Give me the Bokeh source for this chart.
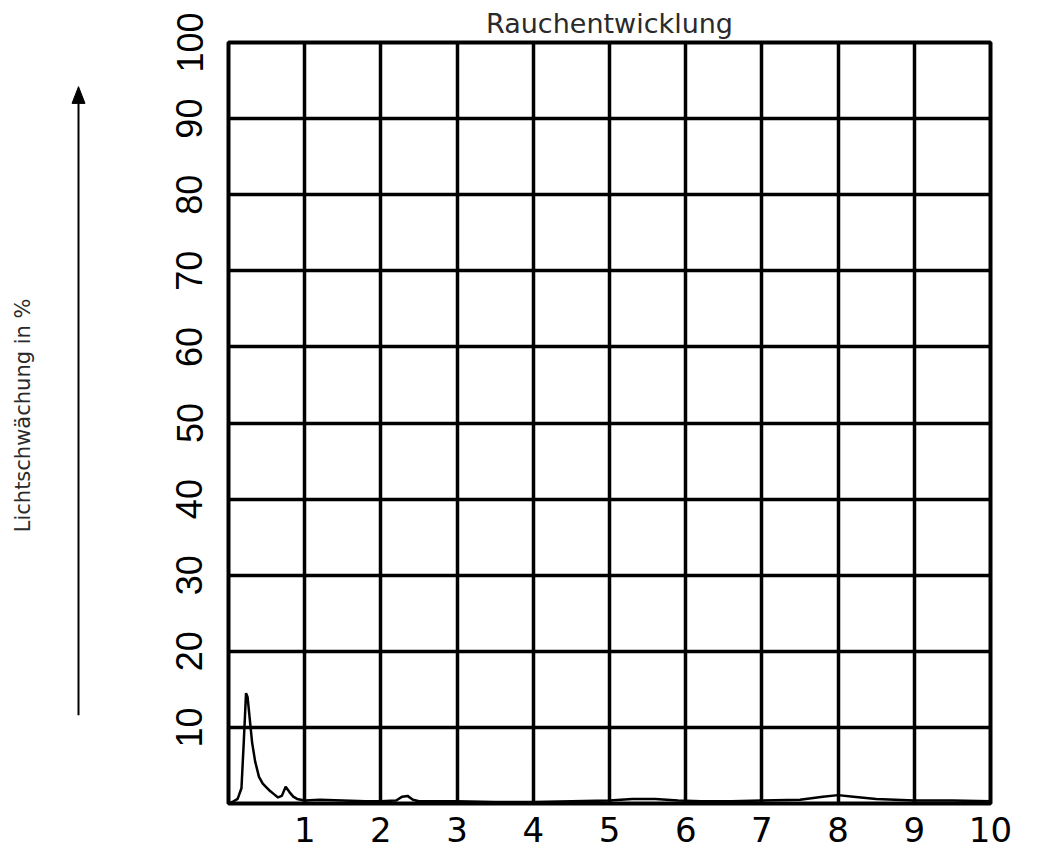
import math
from bokeh.plotting import figure
from bokeh.models import FixedTicker, Range1d
from bokeh.layouts import row
from bokeh.core.properties import value
from bokeh.embed import file_html
from bokeh.resources import INLINE

# ---- data ----
title_text = "Rauchentwicklung"
y_axis_title = "Lichtschwächung in %"
x_ticks = [1, 2, 3, 4, 5, 6, 7, 8, 9, 10]
y_ticks = [10, 20, 30, 40, 50, 60, 70, 80, 90, 100]

time_min = [0.0, 0.05, 0.12, 0.17, 0.20, 0.23, 0.25, 0.27, 0.29, 0.31,
            0.35, 0.40, 0.45, 0.50, 0.55, 0.60, 0.65, 0.70, 0.75, 0.80,
            0.85, 0.90, 1.00, 1.20, 1.50, 1.80, 2.00, 2.20, 2.28, 2.35,
            2.42, 2.50, 3.00, 3.50, 4.00, 4.50, 5.00, 5.30, 5.60, 5.90,
            6.20, 6.60, 7.00, 7.50, 7.80, 8.00, 8.20, 8.50, 9.00, 9.50,
            10.00]
light_loss = [0.0, 0.2, 0.6, 2.0, 8.0, 14.5, 14.0, 12.0, 10.0, 8.0,
              5.5, 3.5, 2.6, 2.1, 1.6, 1.2, 0.8, 1.0, 2.2, 1.5,
              0.9, 0.6, 0.4, 0.5, 0.4, 0.3, 0.3, 0.4, 0.9, 1.0,
              0.5, 0.3, 0.3, 0.2, 0.2, 0.3, 0.4, 0.6, 0.6, 0.4,
              0.3, 0.3, 0.4, 0.5, 0.9, 1.1, 0.9, 0.6, 0.4, 0.4,
              0.3]

TOTAL_W, TOTAL_H = 1043, 850
LEFT_W = 150

# ---- left strip: y-axis title and arrow (x in pixels, y shares the chart's scale) ----
left = figure(width=LEFT_W, height=TOTAL_H, output_backend="svg",
              toolbar_location=None, x_range=Range1d(0, LEFT_W),
              y_range=Range1d(0, 100), min_border=0,
              min_border_top=42, min_border_bottom=TOTAL_H - 803,
              x_axis_location=None, y_axis_location=None)
left.grid.visible = False
left.outline_line_color = None
left.background_fill_color = "white"
left.border_fill_color = "white"
left.text(x=[22], y=[51], text=[y_axis_title], angle=math.pi / 2,
          text_align="center", text_baseline="middle",
          text_font=value("DejaVu Sans"), text_font_size="21px",
          text_color="#2a2a2a")
left.segment(x0=[78], y0=[11.6], x1=[78], y1=[92.5], line_color="black",
             line_width=2)
left.patch(x=[71.5, 84.5, 78], y=[92.0, 92.0, 94.2], fill_color="black",
           line_color="black", line_width=1)

# ---- main chart ----
p = figure(width=TOTAL_W - LEFT_W, height=TOTAL_H, output_backend="svg",
           toolbar_location=None,
           x_range=Range1d(0, 10), y_range=Range1d(0, 100),
           min_border_left=228 - LEFT_W, min_border_right=TOTAL_W - 990,
           min_border_top=42, min_border_bottom=TOTAL_H - 803)
p.background_fill_color = "white"
p.border_fill_color = "white"
p.outline_line_color = "black"
p.outline_line_width = 4

p.title.text = title_text
p.title.align = "center"
p.title.text_font = "DejaVu Sans"
p.title.text_font_size = "27px"
p.title.text_font_style = "normal"
p.title.text_color = "#2a2a2a"
p.title.standoff = 8

p.xgrid.ticker = FixedTicker(ticks=x_ticks)
p.ygrid.ticker = FixedTicker(ticks=y_ticks)
for g in (p.xgrid, p.ygrid):
    g.grid_line_color = "black"
    g.grid_line_width = 3.5
    g.grid_line_alpha = 1.0

xa = p.xaxis[0]
xa.ticker = FixedTicker(ticks=x_ticks)
xa.axis_line_color = None
xa.major_tick_line_color = None
xa.minor_tick_line_color = None
xa.major_label_text_font = "DejaVu Sans"
xa.major_label_text_font_size = "34px"
xa.major_label_text_color = "black"
xa.major_label_standoff = 7

ya = p.yaxis[0]
ya.ticker = FixedTicker(ticks=y_ticks)
ya.axis_line_color = None
ya.major_tick_line_color = None
ya.minor_tick_line_color = None
ya.major_label_orientation = "parallel"
ya.major_label_text_font = "Liberation Sans"
ya.major_label_text_font_size = "36px"
ya.major_label_text_color = "black"
ya.major_label_standoff = 20

p.line(time_min, light_loss, line_color="black", line_width=2.5)

layout = row(left, p, spacing=0)
open("out.html", "w").write(file_html(layout, INLINE))
